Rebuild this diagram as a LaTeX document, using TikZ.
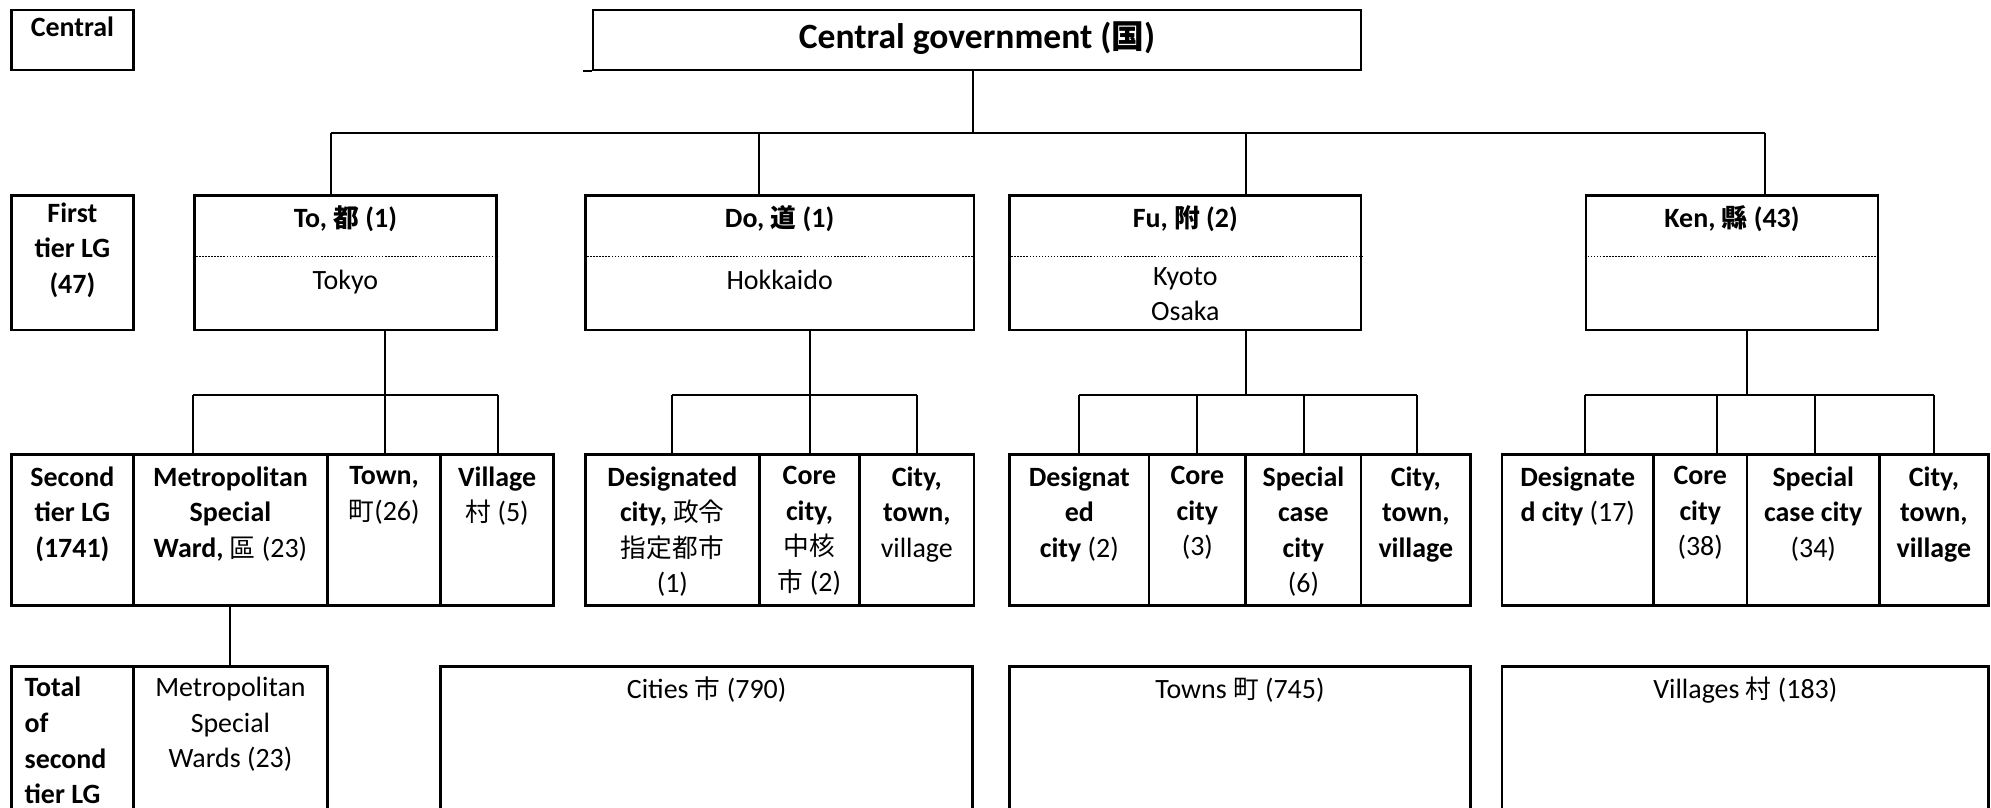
\documentclass[tikz,border=0pt]{standalone}
\usepackage{fontspec}
\setmainfont{Carlito}
\newfontfamily\jpfont{Noto Sans CJK JP}[Scale=0.92]
\newcommand{\kj}[1]{{\jpfont #1}}
\usetikzlibrary{positioning,fit}

\tikzset{
  box/.style={draw, line width=1pt, inner sep=0pt},
  link/.style={line width=0.8pt},
  sep/.style={line width=0.4pt, dash pattern=on 0.6pt off 0.6pt},
  txt/.style={inner sep=0pt, align=center, font=\fontsize{11}{14}\selectfont, execute at begin node=\strut},
  bold/.style={font=\fontsize{11}{14}\selectfont\bfseries},
  big/.style={txt, font=\fontsize{14}{17}\selectfont\bfseries}
}

\begin{document}
\begin{tikzpicture}[x=0.5pt,y=-0.5pt]
\clip (0,0) rectangle (1568,636);

\node[box, fit={(9,8) (105,55)}] (cen) {};
\node[box, fit={(467,8) (1072,55)}] (gov) {};
\node[txt, bold, below=1pt of cen.north] {Central};
\node[big, below=3.5pt of gov.north] {Central government (\kj{国})};
\draw[link] (gov.south west) -- ++(-7,0);

\node[box, fit={(9,154) (105,260)}] (first) {};
\node[box, fit={(153,154) (391,260)}] (to) {};
\node[box, fit={(461,154) (767,260)}] (do) {};
\node[box, fit={(795,154) (1072,260)}] (fu) {};
\node[box, fit={(1249,154) (1479,260)}] (ken) {};

\node[txt, bold, below=3pt of first.north] {First\\tier LG\\(47)};
\node[txt, bold, below=3pt of to.north] {To, \kj{都} (1)};
\node[txt, bold, below=3pt of do.north] {Do, \kj{道} (1)};
\node[txt, bold, below=3pt of fu.north] {Fu, \kj{附} (2)};
\node[txt, bold, below=3pt of ken.north] {Ken, \kj{縣} (43)};

\draw[sep] ([yshift=-24.5pt]to.north west) -- ([yshift=-24.5pt]to.north east);
\draw[sep] ([yshift=-24.5pt]do.north west) -- ([yshift=-24.5pt]do.north east);
\draw[sep] ([yshift=-24.5pt]fu.north west) -- ([yshift=-24.5pt]fu.north east);
\draw[sep] ([yshift=-24.5pt]ken.north west) -- ([yshift=-24.5pt]ken.north east);

\node[txt, below=27.5pt of to.north] {Tokyo};
\node[txt, below=27.5pt of do.north] {Hokkaido};
\node[txt, below=28.5pt of fu.north] {Kyoto\\Osaka};

\coordinate (jgov) at (766,105);
\coordinate (jto) at (261,105);
\coordinate (jdo) at (598,105);
\coordinate (jfu) at (981,105);
\coordinate (jken) at (1390,105);
\draw[link] (gov.south -| jgov) -- (jgov);
\draw[link] (jto) -- (jken);
\draw[link] (jto) -- (to.north -| jto);
\draw[link] (jdo) -- (do.north -| jdo);
\draw[link] (jfu) -- (fu.north -| jfu);
\draw[link] (jken) -- (ken.north -| jken);

\node[box, fit={(9,358) (105,477)}] (second) {};
\node[box, fit={(105,358) (258,477)}] (metro) {};
\node[box, fit={(258,358) (347,477)}] (town) {};
\node[box, fit={(347,358) (436,477)}] (village) {};
\node[box, fit={(461,358) (598,477)}] (desdo) {};
\node[box, fit={(598,358) (677,477)}] (coredo) {};
\node[box, fit={(677,358) (767,477)}] (ctvdo) {};
\node[box, fit={(795,358) (905,477)}] (desfu) {};
\node[box, fit={(905,358) (981,477)}] (corefu) {};
\node[box, fit={(981,358) (1072,477)}] (spcfu) {};
\node[box, fit={(1072,358) (1158,477)}] (ctvfu) {};
\node[box, fit={(1183,358) (1302,477)}] (desken) {};
\node[box, fit={(1302,358) (1376,477)}] (coreken) {};
\node[box, fit={(1376,358) (1480,477)}] (spcken) {};
\node[box, fit={(1480,358) (1566,477)}] (ctvken) {};

\node[txt, bold, below=5pt of second.north] {Second\\tier LG\\(1741)};
\node[txt, bold, below=5pt of metro.north] {Metropolitan\\Special\\Ward, {\mdseries\kj{區} (23)}};
\node[txt, below=5pt of town.north] {\textbf{Town,}\\\kj{町}(26)};
\node[txt, below=5pt of village.north] {\textbf{Village}\\\kj{村} (5)};
\node[txt, below=5pt of desdo.north] {\textbf{Designated}\\\textbf{city,} \kj{政令}\\\kj{指定都市}\\(1)};
\node[txt, below=5pt of coredo.north] {\textbf{Core}\\\textbf{city,}\\\kj{中核}\\\kj{市} (2)};
\node[txt, below=5pt of ctvdo.north] {\textbf{City,}\\\textbf{town,}\\village};
\node[txt, below=5pt of desfu.north] {\textbf{Designat}\\\textbf{ed}\\\textbf{city} (2)};
\node[txt, below=5pt of corefu.north] {\textbf{Core}\\\textbf{city}\\(3)};
\node[txt, below=5pt of spcfu.north] {\textbf{Special}\\\textbf{case}\\\textbf{city}\\(6)};
\node[txt, bold, below=5pt of ctvfu.north] {City,\\town,\\village};
\node[txt, below=5pt of desken.north] {\textbf{Designate}\\\textbf{d city} (17)};
\node[txt, below=5pt of coreken.north] {\textbf{Core}\\\textbf{city}\\(38)};
\node[txt, below=5pt of spcken.north] {\textbf{Special}\\\textbf{case city}\\(34)};
\node[txt, bold, below=5pt of ctvken.north] {City,\\town,\\village};

\coordinate (bto) at (303,311);
\coordinate (bto1) at (152,311);
\coordinate (bto2) at (392,311);
\draw[link] (to.south -| bto) -- (bto);
\draw[link] (bto1) -- (bto2);
\draw[link] (bto1) -- (metro.north -| bto1);
\draw[link] (bto) -- (town.north -| bto);
\draw[link] (bto2) -- (village.north -| bto2);

\coordinate (bdo) at (638,311);
\draw[link] (do.south -| bdo) -- (bdo);
\draw[link] (desdo.north |- bdo) -- (ctvdo.north |- bdo);
\draw[link] (desdo.north |- bdo) -- (desdo.north);
\draw[link] (bdo) -- (coredo.north -| bdo);
\draw[link] (ctvdo.north |- bdo) -- (ctvdo.north);

\coordinate (bfu) at (981,311);
\coordinate (bfu1) at (850,311);
\coordinate (bfu2) at (943,311);
\coordinate (bfu3) at (1027,311);
\coordinate (bfu4) at (1116,311);
\draw[link] (fu.south -| bfu) -- (bfu);
\draw[link] (bfu1) -- (bfu4);
\draw[link] (bfu1) -- (desfu.north -| bfu1);
\draw[link] (bfu2) -- (corefu.north -| bfu2);
\draw[link] (bfu3) -- (spcfu.north -| bfu3);
\draw[link] (bfu4) -- (ctvfu.north -| bfu4);

\coordinate (bken) at (1376,311);
\coordinate (bken1) at (1248,311);
\coordinate (bken2) at (1352,311);
\coordinate (bken3) at (1429,311);
\coordinate (bken4) at (1523,311);
\draw[link] (ken.south -| bken) -- (bken);
\draw[link] (bken1) -- (bken4);
\draw[link] (bken1) -- (desken.north -| bken1);
\draw[link] (bken2) -- (coreken.north -| bken2);
\draw[link] (bken3) -- (spcken.north -| bken3);
\draw[link] (bken4) -- (ctvken.north -| bken4);

\node[box, fit={(9,525) (105,660)}] (total) {};
\node[box, fit={(105,525) (258,660)}] (wards) {};
\node[box, fit={(347,525) (766,660)}] (cities) {};
\node[box, fit={(795,525) (1158,660)}] (towns) {};
\node[box, fit={(1183,525) (1566,660)}] (villages) {};
\draw[link] (metro.south) -- (wards.north);

\node[txt, bold, align=left, anchor=north west] at ([xshift=5.5pt,yshift=-4.5pt]total.north west) {Total\\of\\second\\tier LG};
\node[txt, below=4.5pt of wards.north] {Metropolitan\\Special\\Wards (23)};
\node[txt, below=3pt of cities.north] {Cities \kj{市} (790)};
\node[txt, below=3pt of towns.north] {Towns \kj{町} (745)};
\node[txt, below=3pt of villages.north] {Villages \kj{村} (183)};
\end{tikzpicture}
\end{document}
